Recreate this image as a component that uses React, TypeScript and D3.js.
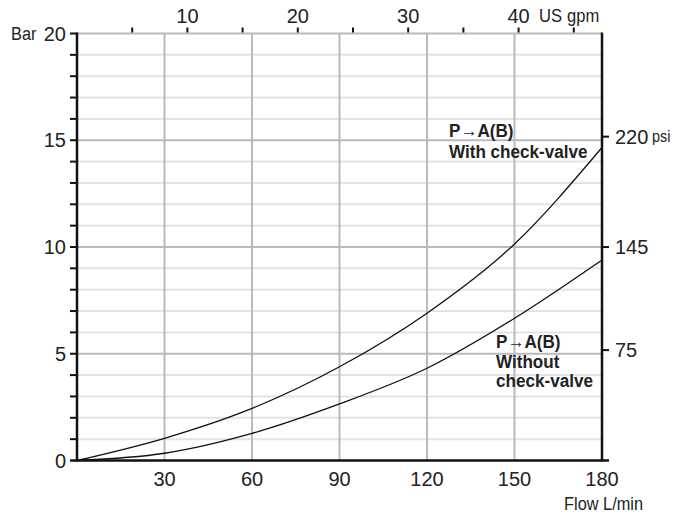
import { useEffect, useRef } from 'react';
import * as d3 from 'd3';

// flow in L/min, pressure drop in bar
const flow = [0, 30, 60, 90, 120, 150, 180];
const withCheck = [0, 1.04, 2.44, 4.39, 6.9, 10.14, 14.66];
const withoutCheck = [0, 0.34, 1.27, 2.65, 4.32, 6.66, 9.39];

const flowTicks = [30, 60, 90, 120, 150, 180];
const barTicks = [0, 5, 10, 15, 20];
const gpmLabels = [10, 20, 30, 40];
const gpmMinor = [5, 15, 25, 35, 45];
const psiTicks = [75, 145, 220];

const LPM_PER_GPM = 3.785;
const PSI_PER_BAR = 14.5038;

export default function App() {
  const svgRef = useRef<SVGSVGElement>(null);

  useEffect(() => {
    const svg = d3.select(svgRef.current);
    svg.selectAll('*').remove();

    const left = 77;
    const right = 602;
    const top = 33.5;
    const bottom = 460.5;
    const font = "'Liberation Sans', Arial, sans-serif";
    const ink = '#222';

    const x = d3.scaleLinear().domain([0, 180]).range([left, right]);
    const y = d3.scaleLinear().domain([0, 20]).range([bottom, top]);

    // text helper, condensed by horizontal scaling
    const label = (tx: number, ty: number, s: string | number, size: number, anchor = 'start', sx = 1, bold = false) =>
      svg.append('text')
        .attr('transform', `translate(${tx},${ty}) scale(${sx},1)`)
        .attr('text-anchor', anchor)
        .attr('font-family', font).attr('font-size', size)
        .attr('font-weight', bold ? 'bold' : 'normal')
        .attr('fill', ink).text(s);

    // minor horizontal grid (every bar)
    const minor = d3.range(1, 20).filter(v => v % 5 !== 0);
    svg.append('g').selectAll('line').data(minor).enter().append('line')
      .attr('x1', left).attr('x2', right)
      .attr('y1', d => y(d)).attr('y2', d => y(d))
      .attr('stroke', '#e3e3e5').attr('stroke-width', 2);

    // major horizontal grid
    svg.append('g').selectAll('line').data([5, 10, 15, 20]).enter().append('line')
      .attr('x1', left).attr('x2', right)
      .attr('y1', d => y(d)).attr('y2', d => y(d))
      .attr('stroke', '#b9babd').attr('stroke-width', 2);

    // vertical grid
    svg.append('g').selectAll('line').data(flowTicks.slice(0, -1)).enter().append('line')
      .attr('x1', d => x(d)).attr('x2', d => x(d))
      .attr('y1', top).attr('y2', bottom)
      .attr('stroke', '#b9babd').attr('stroke-width', 2);

    // curves
    const line = d3.line<number>()
      .x((_, i) => x(flow[i]))
      .y(d => y(d))
      .curve(d3.curveMonotoneX);
    [withCheck, withoutCheck].forEach(s => {
      svg.append('path').datum(s).attr('d', line)
        .attr('fill', 'none').attr('stroke', '#111').attr('stroke-width', 1.3);
    });

    // axes lines
    svg.append('line').attr('x1', left).attr('x2', left).attr('y1', top - 1).attr('y2', bottom + 1)
      .attr('stroke', '#111').attr('stroke-width', 2.5);
    svg.append('line').attr('x1', right).attr('x2', right).attr('y1', top - 1).attr('y2', bottom + 1)
      .attr('stroke', '#111').attr('stroke-width', 2.5);
    svg.append('line').attr('x1', 70).attr('x2', right + 7).attr('y1', bottom).attr('y2', bottom)
      .attr('stroke', '#111').attr('stroke-width', 2.5);

    // left ticks, every bar
    svg.append('g').selectAll('line').data(d3.range(1, 21)).enter().append('line')
      .attr('x1', 70).attr('x2', left)
      .attr('y1', d => y(d)).attr('y2', d => y(d))
      .attr('stroke', '#111').attr('stroke-width', 2);

    barTicks.forEach(d => label(66, y(d) + 7, d, 20, 'end'));
    label(11, y(20) + 6.5, 'Bar', 19, 'start', 0.86);

    // bottom labels
    flowTicks.forEach(d => label(x(d), 486, d, 20, 'middle'));
    label(643, 510, 'Flow L/min', 19, 'end', 0.86);

    // top gpm axis
    const g = (v: number) => x(v * LPM_PER_GPM);
    svg.append('g').selectAll('line').data([...gpmMinor, ...gpmLabels]).enter().append('line')
      .attr('x1', d => g(d)).attr('x2', d => g(d))
      .attr('y1', top - 6).attr('y2', top - 1)
      .attr('stroke', '#111').attr('stroke-width', 2);
    gpmLabels.forEach(d => label(g(d), 23, d, 20, 'middle'));
    label(539, 22, 'US', 18.5, 'start', 0.9);
    label(567, 22, 'gpm', 18, 'start', 0.92);

    // right psi axis
    const p = (v: number) => y(v / PSI_PER_BAR);
    svg.append('g').selectAll('line').data(psiTicks).enter().append('line')
      .attr('x1', right).attr('x2', right + 7)
      .attr('y1', d => p(d)).attr('y2', d => p(d))
      .attr('stroke', '#111').attr('stroke-width', 2);
    psiTicks.forEach(d => label(right + 13, p(d) + 7, d, 20));
    label(652, p(220) + 5, 'psi', 16, 'start', 0.9);

    // curve labels
    const block = (tx: number, ty: number, lines: string[], gap: number) =>
      lines.forEach((s, i) => label(tx, ty + i * gap, s, 19, 'start', 0.9, true));
    block(449, 137, ['P\u2192A(B)', 'With check-valve'], 20.5);
    block(496, 348, ['P\u2192A(B)', 'Without', 'check-valve'], 19.5);
  }, []);

  return (
    <svg ref={svgRef} width={686} height={517}
      style={{ position: 'absolute', left: 0, top: 0, background: '#fff' }} />
  );
}
